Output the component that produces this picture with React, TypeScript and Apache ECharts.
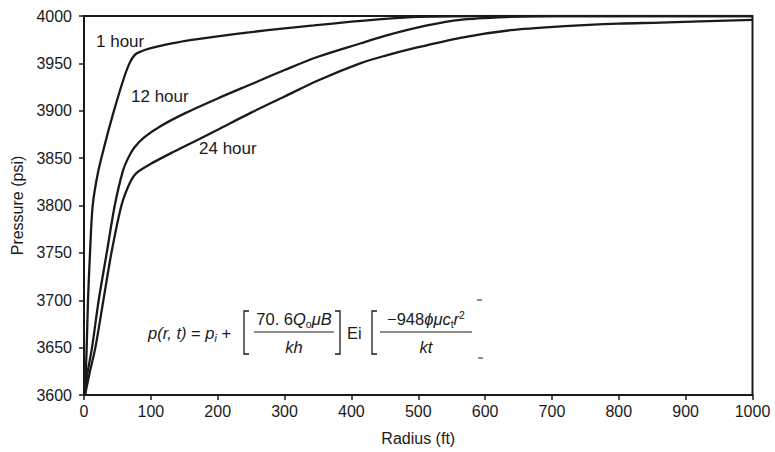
import React, { useEffect, useRef } from "react";
import * as echarts from "echarts";

// ---- data ----
const curveNames = ["1 hour", "12 hour", "24 hour"];

const radius1h = [1.5, 4, 6, 9, 13, 21, 31, 44, 59, 68, 76, 85, 100, 124, 150, 200, 250, 300, 344, 400, 450, 500, 600, 1000];
const pressure1h = [3600, 3650, 3700, 3750, 3800, 3835, 3864, 3898, 3933, 3950, 3959, 3962.5, 3966, 3970, 3973.5, 3978.5, 3983, 3987, 3990, 3994, 3997, 3999, 4000, 4000];

const radius12h = [1.5, 5, 12, 22, 34, 46, 58, 66, 75, 90, 115, 150, 200, 250, 300, 350, 413, 450, 513, 563, 637, 700, 1000];
const pressure12h = [3600, 3622, 3650, 3700, 3750, 3800, 3836, 3850, 3861, 3872, 3884, 3897, 3913, 3928, 3943, 3957, 3971, 3979, 3990, 3996, 3999, 4000, 4000];

const radius24h = [1.5, 8, 17, 29, 41, 56, 68, 78, 100, 135, 172, 200, 250, 300, 350, 413, 450, 488, 563, 638, 713, 800, 862, 1000];
const pressure24h = [3600, 3622, 3650, 3700, 3750, 3800, 3823, 3834, 3844, 3857, 3870, 3880, 3898, 3915, 3932, 3950, 3958, 3965, 3977, 3985, 3989, 3992, 3993, 3996];

const xTicks = { min: 0, max: 1000, interval: 100 };
const yTicks = { min: 3600, max: 4000, interval: 50 };

const ink = "#1a1a1a";
const font = "'Liberation Sans', Arial, Helvetica, sans-serif";

export default function App() {
  const ref = useRef<HTMLDivElement>(null);

  useEffect(() => {
    if (!ref.current) return;
    const chart = echarts.init(ref.current, undefined, { renderer: "svg" });

    const mk = (r: number[], p: number[]) => r.map((x, i) => [x, p[i]]);
    const seriesData = [mk(radius1h, pressure1h), mk(radius12h, pressure12h), mk(radius24h, pressure24h)];

    const fs = 16.5;
    const rich = {
      n: { fontFamily: font, fontSize: fs, fontStyle: "normal", lineHeight: 20, fill: ink },
      it: { fontFamily: font, fontSize: fs, fontStyle: "italic", lineHeight: 20, fill: ink },
      sub: { fontFamily: font, fontSize: 10.5, fontStyle: "normal", lineHeight: 10, verticalAlign: "bottom", fill: ink },
      subi: { fontFamily: font, fontSize: 10.5, fontStyle: "italic", lineHeight: 10, verticalAlign: "bottom", fill: ink },
      sup: { fontFamily: font, fontSize: 10.5, fontStyle: "normal", lineHeight: 10, verticalAlign: "top", fill: ink },
    };

    const txt = (x: number, y: number, text: string, align = "left") => ({
      type: "text",
      x,
      y,
      silent: true,
      style: { text, rich, align, verticalAlign: "middle", fontFamily: font, fontSize: fs, fill: ink },
    });
    const pl = (points: number[][], w = 1.3) => ({
      type: "polyline",
      silent: true,
      shape: { points },
      style: { stroke: ink, lineWidth: w, fill: "none" },
    });

    const formula = [
      txt(148, 333, "{it|p(r, t)} {n|=} {it|p}{subi|i} {n|+}"),
      pl([[249, 311], [244, 311], [244, 354], [249, 354]]),
      txt(294, 319, "{n|70. 6}{it|Q}{sub|o}{it|μB}", "center"),
      pl([[254, 332], [334, 332]], 1),
      txt(294, 347, "{it|kh}", "center"),
      pl([[335, 311], [340, 311], [340, 354], [335, 354]]),
      txt(347, 333, "{n|Ei}"),
      pl([[377, 311], [372, 311], [372, 354], [377, 354]]),
      txt(426, 319, "{n|−948}{it|ϕμc}{sub|t}{it|r}{sup|2}", "center"),
      pl([[380, 332], [472, 332]], 1),
      txt(426, 347, "{it|kt}", "center"),
      pl([[477, 300], [482, 300]], 1),
      pl([[478, 358], [483, 358]], 1),
    ];

    const labels = [
      { x: 96, y: 41, t: curveNames[0] },
      { x: 131, y: 96, t: curveNames[1] },
      { x: 199, y: 148, t: curveNames[2] },
    ].map((l) => ({
      type: "text",
      x: l.x,
      y: l.y,
      silent: true,
      style: { text: l.t, fontFamily: font, fontSize: 17, fill: ink, align: "left", verticalAlign: "middle" },
    }));

    chart.setOption({
      animation: false,
      backgroundColor: "#ffffff",
      grid: { left: 84, right: 22.5, top: 16, bottom: 57, show: true, borderColor: ink, borderWidth: 2, backgroundColor: "transparent" },
      xAxis: {
        type: "value",
        min: xTicks.min,
        max: xTicks.max,
        interval: xTicks.interval,
        name: "Radius (ft)",
        nameLocation: "middle",
        nameGap: 35,
        nameTextStyle: { fontFamily: font, fontSize: 16, color: ink },
        axisLine: { show: true, lineStyle: { color: ink, width: 2 } },
        axisTick: { show: true, length: 5, lineStyle: { color: ink, width: 1.5 } },
        axisLabel: { fontFamily: font, fontSize: 16, color: ink, margin: 8, formatter: (v: number) => String(v) },
        splitLine: { show: false },
      },
      yAxis: {
        type: "value",
        min: yTicks.min,
        max: yTicks.max,
        interval: yTicks.interval,
        name: "Pressure (psi)",
        nameLocation: "middle",
        nameGap: 58,
        nameRotate: 90,
        nameTextStyle: { fontFamily: font, fontSize: 16, color: ink },
        axisLine: { show: true, lineStyle: { color: ink, width: 2 } },
        axisTick: { show: true, length: 5, lineStyle: { color: ink, width: 1.5 } },
        axisLabel: { fontFamily: font, fontSize: 16, color: ink, margin: 12, formatter: (v: number) => String(v) },
        splitLine: { show: false },
      },
      series: seriesData.map((d, i) => ({
        name: curveNames[i],
        type: "line",
        data: d,
        showSymbol: false,
        smooth: 0.3,
        clip: true,
        lineStyle: { color: ink, width: 2.3 },
      })),
      graphic: [...labels, ...formula],
    });

    return () => chart.dispose();
  }, []);

  return <div ref={ref} style={{ position: "fixed", left: 0, top: 0, width: 775, height: 452, background: "#fff" }} />;
}
